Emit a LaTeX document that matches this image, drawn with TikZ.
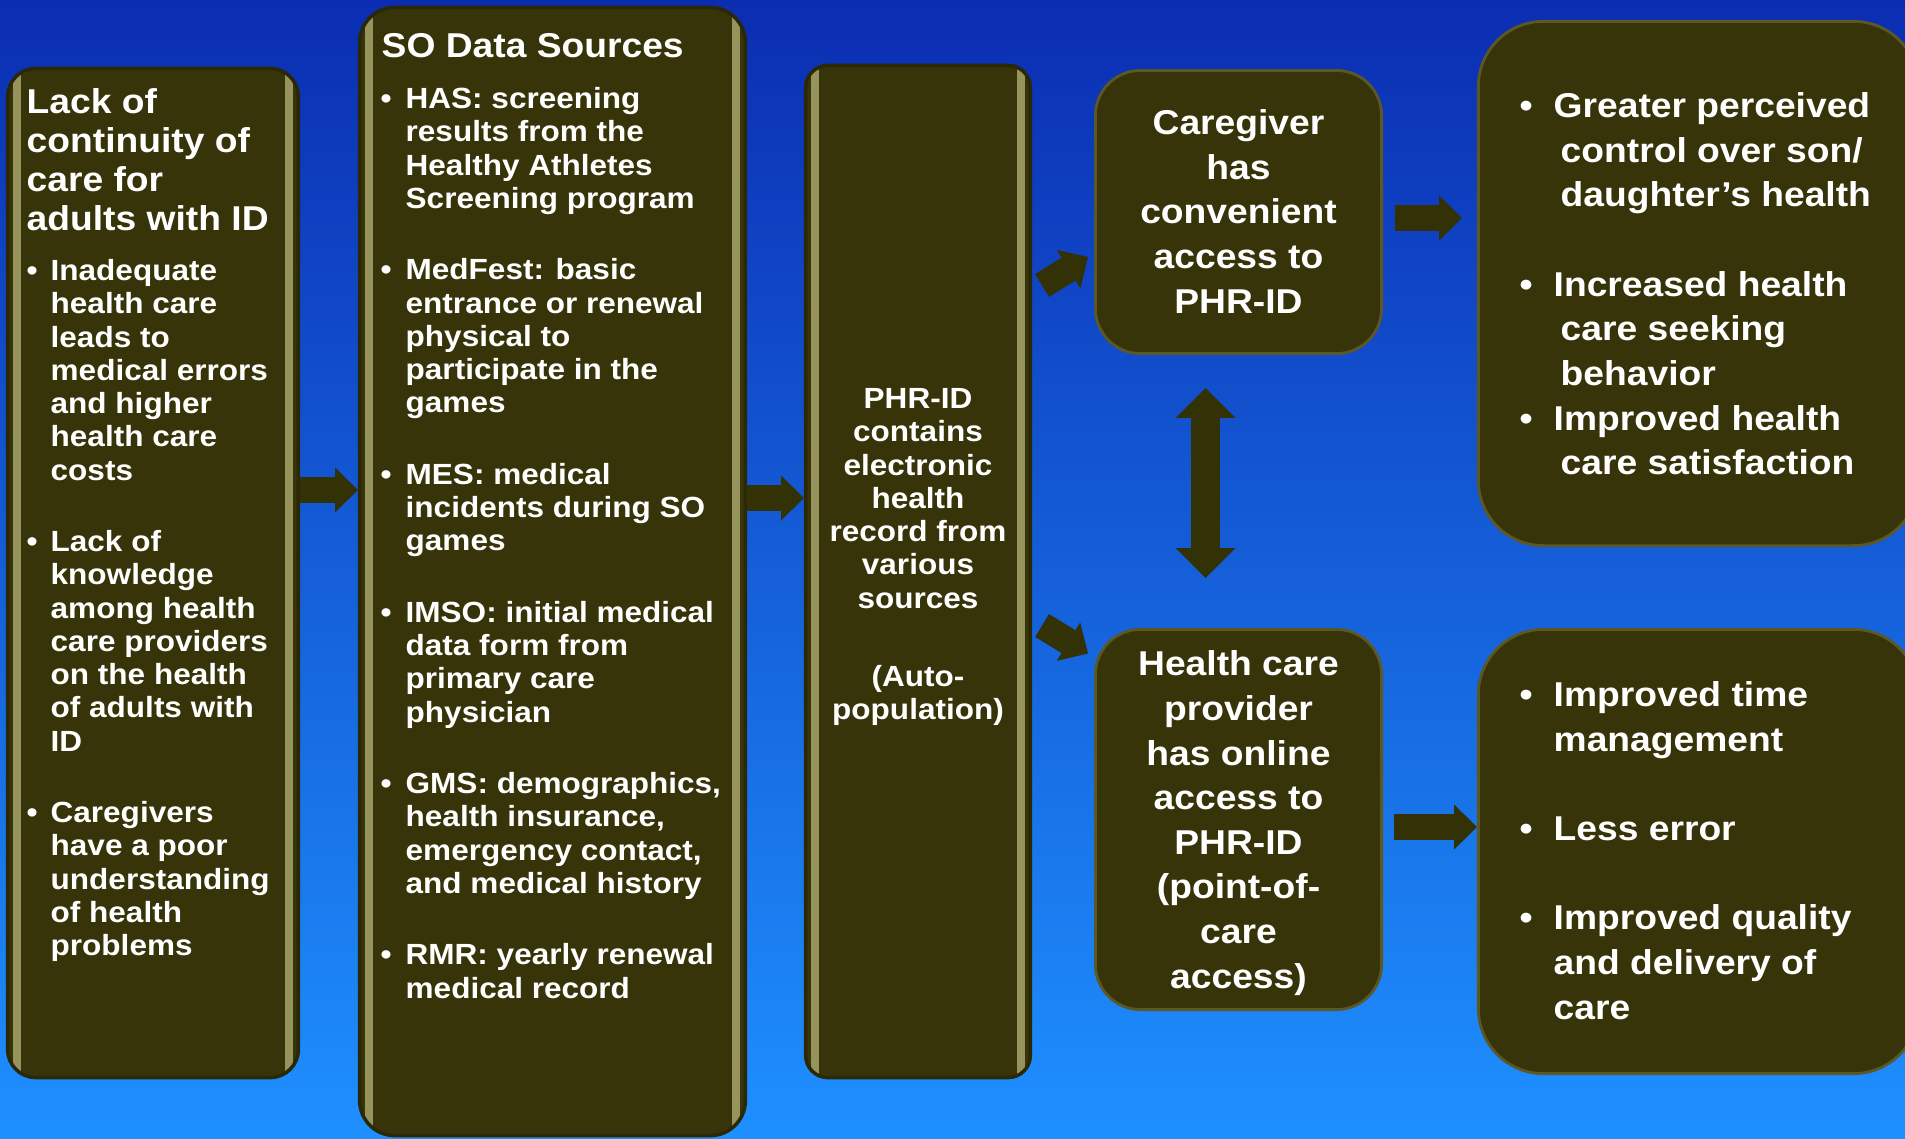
\documentclass[tikz,border=0pt]{standalone}
\usepackage{fontspec}
\setmainfont{Liberation Sans}[FakeStretch=1.08]
\usepackage{tikz}
\usetikzlibrary{arrows.meta,positioning,calc}

\definecolor{bgtop}{RGB}{11,45,178}
\definecolor{bgmid}{RGB}{22,108,228}
\definecolor{bgbot}{RGB}{30,144,255}
\definecolor{olivebox}{RGB}{55,52,9}
\definecolor{olivedeep}{RGB}{42,40,6}
\definecolor{bevel}{RGB}{150,147,92}
\definecolor{oliverim}{RGB}{92,88,38}
\definecolor{olivearrow}{RGB}{51,49,6}

\newcommand{\headfont}{\fontsize{9.8pt}{11.1pt}\selectfont\bfseries}
\newcommand{\itemfont}{\fontsize{8.3pt}{9.45pt}\selectfont\bfseries}
\newcommand{\bigfont}{\fontsize{9.8pt}{12.7pt}\selectfont\bfseries}
\newcommand{\dotitem}[1]{\llap{\textbullet\hspace{#1}}}

\tikzset{
    every node/.style={text=white},
    column/.style={draw=olivedeep, line width=1pt, fill=olivebox, inner sep=0pt,
        path picture={
            \draw[bevel, line width=2.3pt]
                ([xshift=2.6pt]path picture bounding box.north west) -- ([xshift=2.6pt]path picture bounding box.south west)
                ([xshift=-2.6pt]path picture bounding box.north east) -- ([xshift=-2.6pt]path picture bounding box.south east);
        }},
    tile/.style={draw=oliverim, line width=0.8pt, fill=olivebox, rounded corners=0.45cm, inner sep=0pt},
    head/.style={font=\headfont, align=left, inner sep=0pt},
    items/.style={font=\itemfont, align=left, inner sep=0pt},
    bigtext/.style={font=\bigfont, inner sep=0pt},
    blockarrow/.style={draw=olivearrow, line width=7.6pt,
        -{Triangle[length=6.5pt,width=12.8pt,line width=0pt]}},
    twinarrow/.style={draw=olivearrow, line width=8.5pt,
        {Triangle[length=8.5pt,width=17pt,line width=0pt]}-{Triangle[length=8.5pt,width=17pt,line width=0pt]}}
}

\begin{document}
\begin{tikzpicture}[x=0.01cm, y=-0.01cm]
    \useasboundingbox (0,0) rectangle (1905,1139);
    \clip (0,0) rectangle (1905,1139);
    \shade[top color=bgtop, middle color=bgmid, bottom color=bgbot] (0,0) rectangle (1905,1139);

    % boxes
    \node[column, minimum width=2.905cm, minimum height=10.085cm, rounded corners=0.28cm] (lack) at (153,573) {};
    \node[column, minimum width=3.855cm, minimum height=11.275cm, rounded corners=0.35cm] (sods) at (552.5,571.5) {};
    \node[column, minimum width=2.245cm, minimum height=10.115cm, rounded corners=0.22cm] (phr) at (918,571.5) {};
    \node[tile, minimum width=2.86cm, minimum height=2.83cm] (care) at (1238.5,212) {};
    \node[tile, minimum width=2.86cm, minimum height=3.80cm] (prov) at (1238.5,819.5) {};
    \node[tile, minimum width=4.40cm, minimum height=5.24cm, rounded corners=0.65cm] (gain) at (1698.5,283.5) {};
    \node[tile, minimum width=4.40cm, minimum height=4.44cm, rounded corners=0.65cm] (eff) at (1698.5,851.5) {};

    % texts
    \node[head, anchor=north west] (lacktitle) at (26,85.7) {\strut Lack of\\continuity of\\care for\\adults with ID};
    \node[items, anchor=north west] (lackitems) at (50,256.7) {\strut\dotitem{3.7pt}Inadequate\\health care\\leads to\\medical errors\\and higher\\health care\\costs\\[10.9pt]
        \dotitem{3.7pt}Lack of\\knowledge\\among health\\care providers\\on the health\\of adults with\\ID\\[10.9pt]
        \dotitem{3.7pt}Caregivers\\have a poor\\understanding\\of health\\problems};

    \node[head, anchor=north west] (sodstitle) at (381,29.7) {\strut SO Data Sources};
    \node[items, anchor=north west] (soditems) at (405,84.7) {\strut\dotitem{4pt}HAS: screening\\results from the\\Healthy Athletes\\Screening program\\[10.9pt]
        \dotitem{4pt}MedFest: basic\\entrance or renewal\\physical to\\participate in the\\games\\[10.9pt]
        \dotitem{4pt}MES: medical\\incidents during SO\\games\\[10.9pt]
        \dotitem{4pt}IMSO: initial medical\\data form from\\primary care\\physician\\[10.9pt]
        \dotitem{4pt}GMS: demographics,\\health insurance,\\emergency contact,\\and medical history\\[10.9pt]
        \dotitem{4pt}RMR: yearly renewal\\medical record};

    \node[items, align=center, anchor=north] (phrtext) at (918,384.7) {\strut PHR-ID\\contains\\electronic\\health\\record from\\various\\sources\\[12.75pt](Auto-\\population)};

    \node[bigtext, align=center, anchor=north] (caretext) at (1238.5,102.7) {\strut Caregiver\\has\\convenient\\access to\\PHR-ID};
    \node[bigtext, align=center, anchor=north] (provtext) at (1238.5,643.7) {\strut Health care\\provider\\has online\\access to\\PHR-ID\\(point-of-\\care\\access)};

    \node[bigtext, align=left, anchor=north west] (gaintext) at (1553,85.7) {\strut\dotitem{6pt}Greater perceived\\\hspace*{2pt}control over son/\\\hspace*{2pt}daughter’s health\\[12.7pt]
        \dotitem{6pt}Increased health\\\hspace*{2pt}care seeking\\\hspace*{2pt}behavior\\
        \dotitem{6pt}Improved health\\\hspace*{2pt}care satisfaction};
    \node[bigtext, align=left, anchor=north west] (efftext) at (1553,674.7) {\strut\dotitem{6pt}Improved time\\management\\[12.7pt]
        \dotitem{6pt}Less error\\[12.7pt]
        \dotitem{6pt}Improved quality\\and delivery of\\care};

    % arrows
    \draw[blockarrow] (lack.east |- 0,490) -- (sods.west |- 0,490);
    \draw[blockarrow] (sods.east |- 0,498) -- (phr.west |- 0,498);
    \draw[blockarrow] ($(phr.east)+(10,-286)$) -- ($(care.west)+(-6,45)$);
    \draw[blockarrow] ($(phr.east)+(10,54)$) -- ($(prov.west)+(-6,-166)$);
    \draw[twinarrow] ($(care.south)+(-33,33)$) -- ($(prov.north)+(-33,-50)$);
    \draw[blockarrow] ($(care.east)+(12,6)$) -- ($(gain.west)+(-15,-65.5)$);
    \draw[blockarrow] ($(prov.east)+(11,7.5)$) -- (eff.west |- 0,827);
\end{tikzpicture}
\end{document}
